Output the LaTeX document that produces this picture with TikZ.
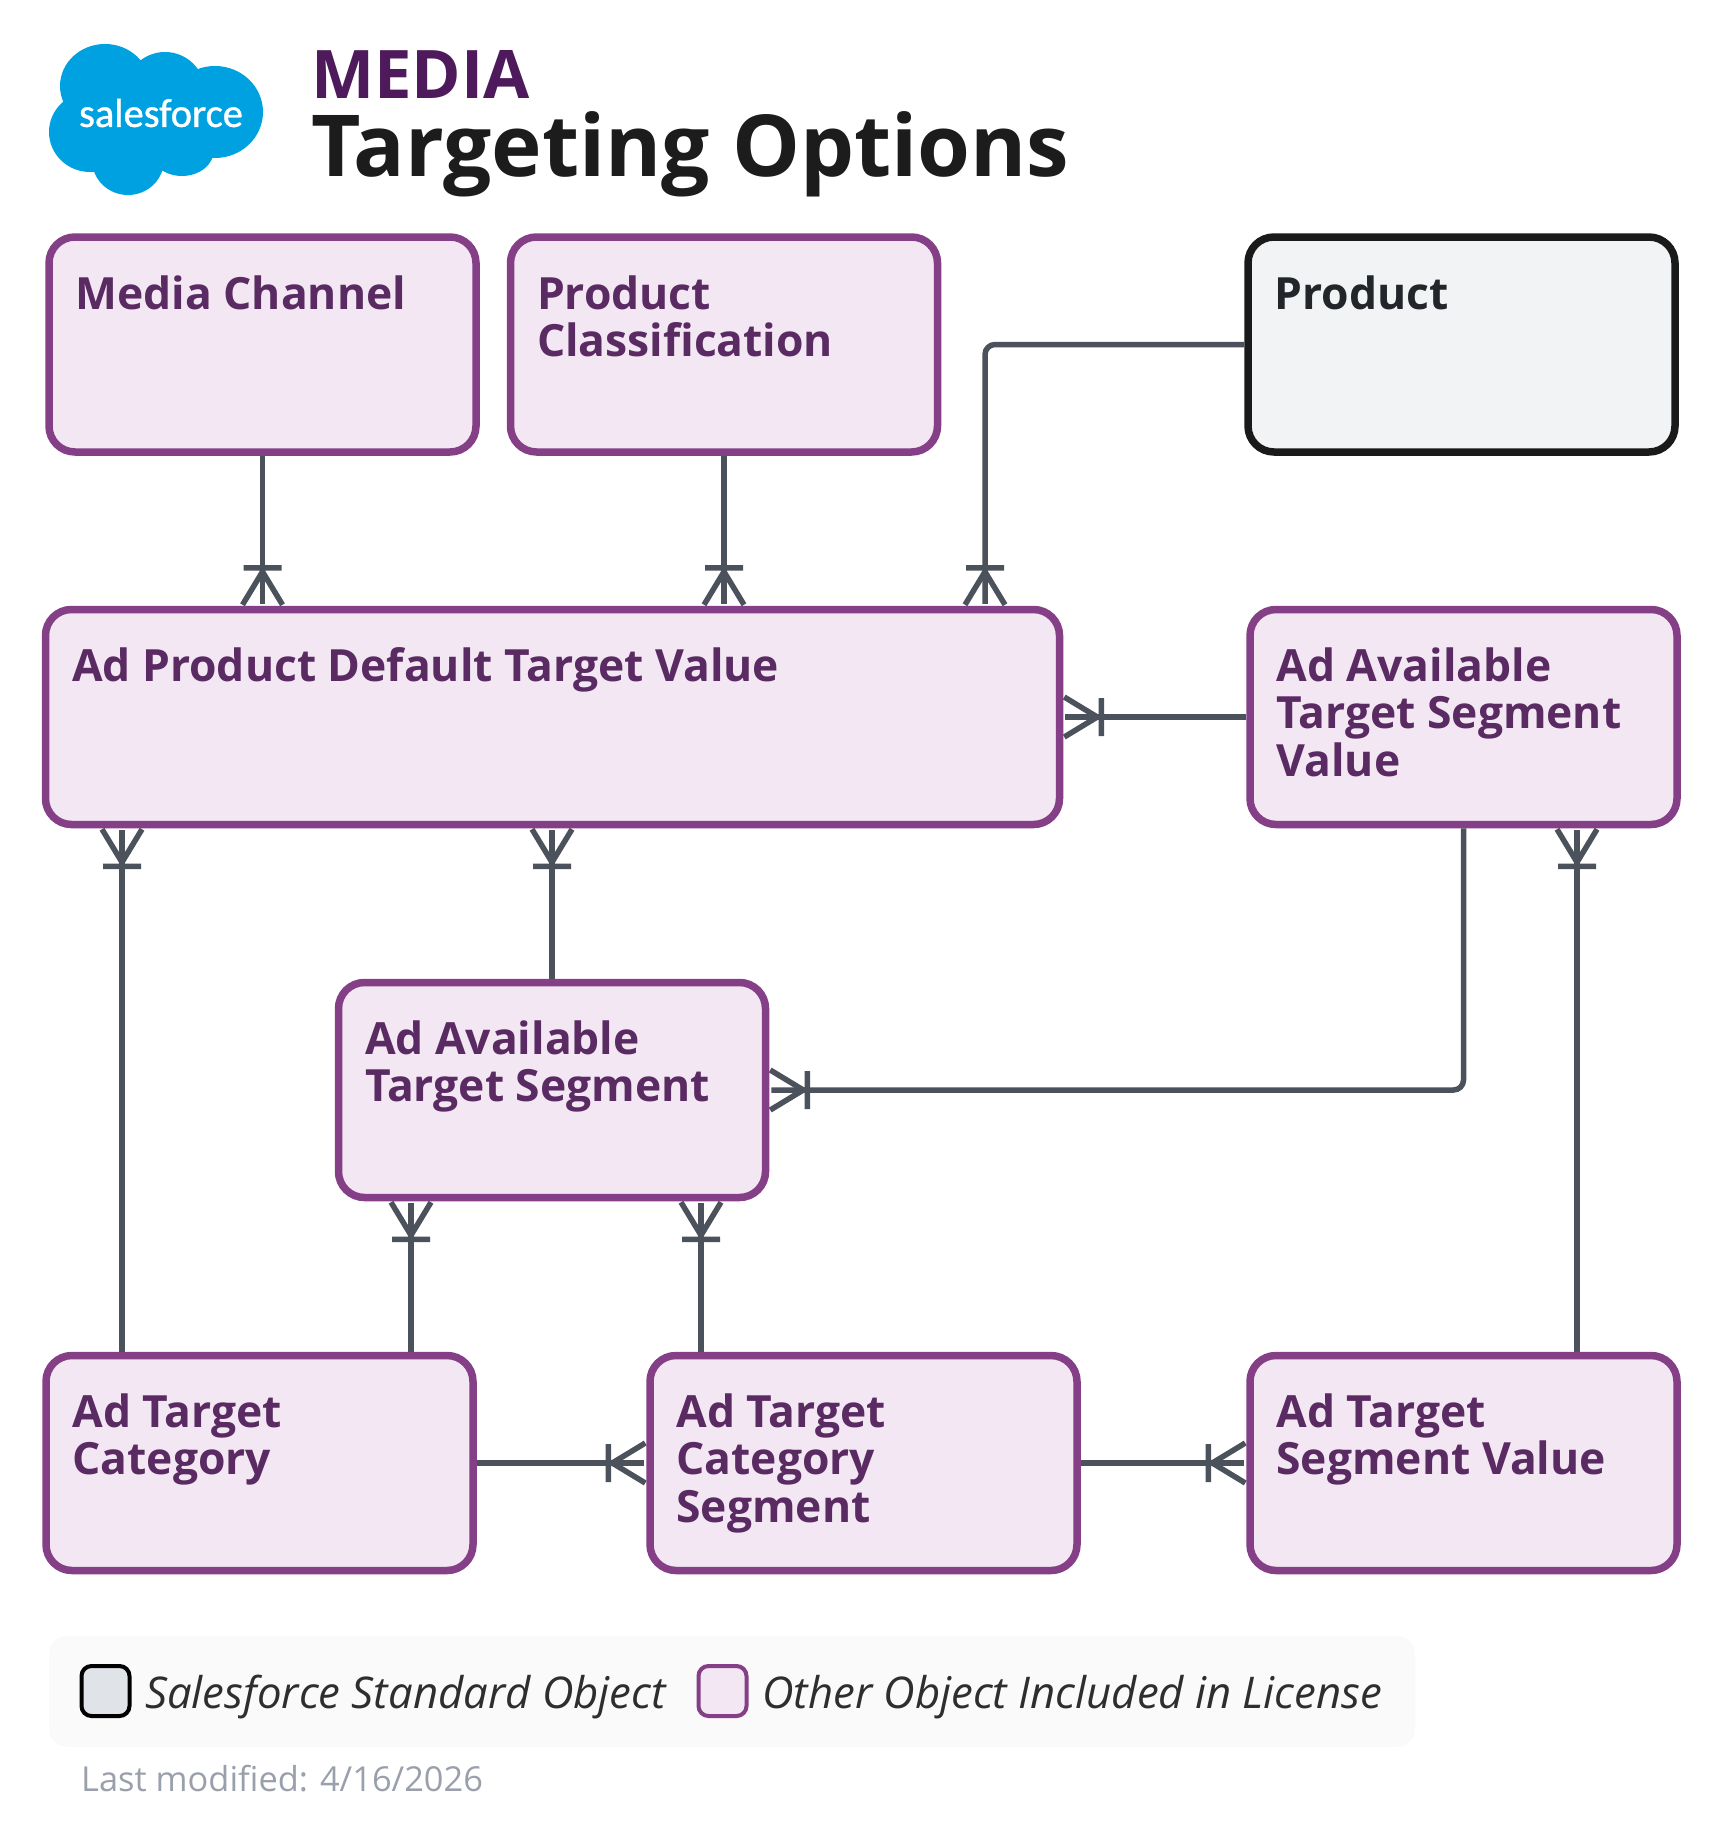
\documentclass[tikz,border=0pt]{standalone}
\usepackage{fontspec}
\setmainfont{Open Sans}
\newfontfamily\logofont[FakeBold=1]{Carlito}
\usetikzlibrary{arrows.meta}
\definecolor{objline}{HTML}{843F86}
\definecolor{objfill}{HTML}{F2E7F3}
\definecolor{objtext}{HTML}{5A2A62}
\definecolor{stdline}{HTML}{1A1A1A}
\definecolor{stdfill}{HTML}{F2F3F5}
\definecolor{stdtext}{HTML}{22262B}
\definecolor{connline}{HTML}{4B525B}
\definecolor{cloudblue}{HTML}{00A1E0}
\definecolor{mediatext}{HTML}{4E1A5C}
\definecolor{titletext}{HTML}{1C1C1C}
\definecolor{legfill}{HTML}{FAFAFA}
\definecolor{legtext}{HTML}{2E2E2E}
\definecolor{swatchfill}{HTML}{E0E3E8}
\definecolor{stamptext}{HTML}{9AA0AB}
\pgfdeclarearrow{
  name=crowfoot,
  setup code={\pgfarrowssettipend{0pt}\pgfarrowssetlineend{-1pt}},
  drawing code={
    \pgfsetdash{}{0pt}\pgfsetbuttcap\pgfsetroundjoin
    \pgfpathmoveto{\pgfqpoint{0pt}{20pt}}
    \pgfpathlineto{\pgfqpoint{-33pt}{0pt}}
    \pgfpathlineto{\pgfqpoint{0pt}{-20pt}}
    \pgfpathmoveto{\pgfqpoint{-37pt}{19pt}}
    \pgfpathlineto{\pgfqpoint{-37pt}{-19pt}}
    \pgfusepathqstroke
  }
}
\newcommand{\boxlabel}[3]{\parbox[c][#2pt][t]{#1pt}{\fontsize{44.4}{47.2}\selectfont\bfseries\vspace*{38.5pt}\raggedright\leftskip=26.5pt #3}}
\tikzset{
  x=1pt,y=-1pt,
  objbox/.style={draw=objline,fill=objfill,text=objtext,line width=7.5pt,rounded corners=26pt,inner sep=0pt,outer sep=3.75pt},
  stdbox/.style={draw=stdline,fill=stdfill,text=stdtext,line width=7.5pt,rounded corners=26pt,inner sep=0pt,outer sep=3.75pt},
  conn/.style={draw=connline,line width=5.5pt,rounded corners=10pt,-{crowfoot},shorten >=1pt},
  swatch/.style={line width=4pt,rounded corners=10pt,minimum width=48pt,minimum height=50pt,inner sep=0pt},
  legnote/.style={font=\fontsize{43.7}{46}\selectfont\itshape,text=legtext,anchor=base west,inner sep=0pt},
}
\begin{document}
\begin{tikzpicture}
\useasboundingbox (0,0) rectangle (1719,1838);
% logo
\fill[cloudblue] (105,86) ellipse (45 and 42) (165,92) ellipse (40 and 40) (215,112) ellipse (48 and 46)
  (90,132) ellipse (41 and 40) (128,160) ellipse (36 and 35) (182,150) ellipse (32 and 26) (150,120) ellipse (70 and 50);
\node[inner sep=0pt,text=white,font=\logofont\fontsize{40.5}{40.5}\selectfont] (logotext) at (161,113) {salesforce};
\node[anchor=base west,inner sep=0pt,text=mediatext,font=\fontsize{67}{67}\selectfont\bfseries] (mediatitle) at (311,99) {MEDIA};
\node[anchor=base west,inner sep=0pt,text=titletext,font=\fontsize{85.5}{85.5}\selectfont\bfseries] (maintitle) at (311,177) {Targeting Options};
% objects
\node[objbox] (mc) at (262.5,344.5) {\boxlabel{427}{215}{Media Channel}};
\node[objbox] (pc) at (724,344.5) {\boxlabel{427}{215}{Product\\Classification}};
\node[stdbox] (pr) at (1461.5,344.5) {\boxlabel{427}{215}{Product}};
\node[objbox] (ad) at (552.5,717) {\boxlabel{1014}{215}{Ad Product Default Target Value}};
\node[objbox] (sv) at (1463.5,717) {\boxlabel{427}{215}{Ad Available\\Target Segment\\Value}};
\node[objbox] (ts) at (552,1090) {\boxlabel{427}{215}{Ad Available\\Target Segment}};
\node[objbox] (tc) at (259.5,1463) {\boxlabel{427}{215}{Ad Target\\Category}};
\node[objbox] (cs) at (863.5,1463) {\boxlabel{427}{215}{Ad Target\\Category\\Segment}};
\node[objbox] (tv) at (1463.5,1463) {\boxlabel{427}{215}{Ad Target\\Segment Value}};
% connectors
\draw[conn] (mc.south) -- (mc.south |- ad.north);
\draw[conn] (pc.south) -- (pc.south |- ad.north);
\coordinate (prdrop) at (985,344.5);
\draw[conn] (pr.west) -- (prdrop) -- (prdrop |- ad.north);
\draw[conn] (sv.west) -- (ad.east);
\coordinate (tcleft) at (122,1350);
\draw[conn] (tcleft |- tc.north) -- (tcleft |- ad.south);
\draw[conn] (ts.north) -- (ts.north |- ad.south);
\coordinate (tvup) at (1577,1350);
\draw[conn] (tvup |- tv.north) -- (tvup |- sv.south);
\draw[conn] (sv.south) -- (sv.south |- ts.east) -- (ts.east);
\coordinate (tcright) at (411,1350);
\draw[conn] (tcright |- tc.north) -- (tcright |- ts.south);
\coordinate (csleft) at (701,1350);
\draw[conn] (csleft |- cs.north) -- (csleft |- ts.south);
\draw[conn] (tc.east) -- (cs.west);
\draw[conn] (cs.east) -- (tv.west);
% legend
\fill[legfill,rounded corners=18pt] (49,1636) rectangle (1415,1747);
\node[swatch,draw=black,fill=swatchfill] (swstd) at (105.5,1691) {};
\node[legnote] (lgstd) at (145,1708) {Salesforce Standard Object};
\node[swatch,draw=objline,fill=objfill] (swobj) at (722.5,1691) {};
\node[legnote] (lgobj) at (762,1708) {Other Object Included in License};
\node[anchor=base west,inner sep=0pt,text=stamptext,font=\fontsize{34.4}{34.4}\selectfont] (stamp) at (81,1791) {Last modified: 4/16/2026};
\end{tikzpicture}
\end{document}
